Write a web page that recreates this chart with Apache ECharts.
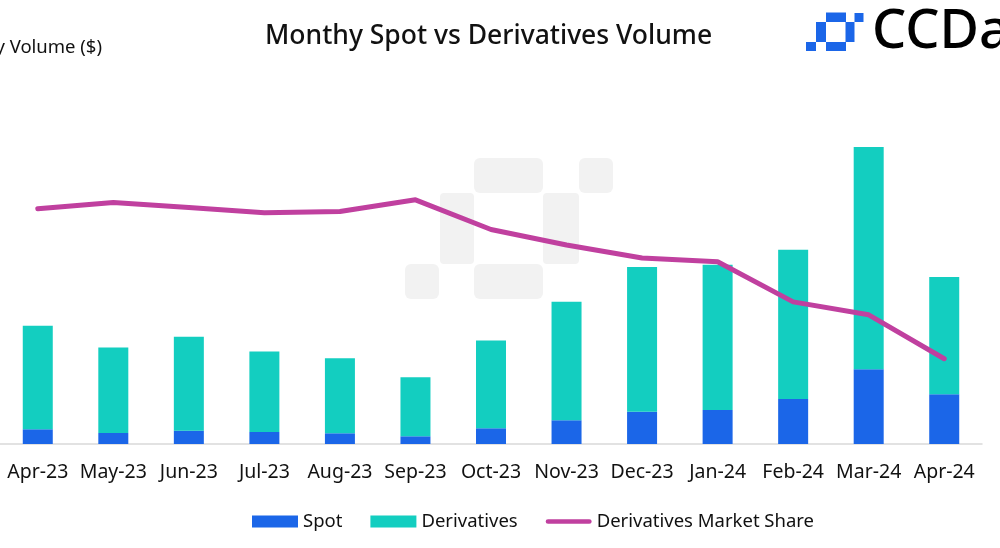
<!DOCTYPE html>
<html>
<head>
<meta charset="utf-8">
<script src="https://cdn.jsdelivr.net/npm/echarts@6/dist/echarts.min.js"></script>
<style>html,body{margin:0;padding:0;background:#fff;}#c{width:1000px;height:548px;}</style>
</head>
<body>
<div id="c"></div>
<script>
const categories = ['Apr-23','May-23','Jun-23','Jul-23','Aug-23','Sep-23','Oct-23','Nov-23','Dec-23','Jan-24','Feb-24','Mar-24','Apr-24'];
// Monthly volume, billions of USD
const spotVolume = [456, 341, 412, 372, 332, 239, 487, 735, 1001, 1054, 1395, 2316, 1541];
const derivativesVolume = [3202, 2644, 2905, 2489, 2325, 1829, 2716, 3667, 4476, 4495, 4619, 6882, 3627];
// Derivatives market share, percent (estimated)
const derivativesShare = [78.2, 78.7, 78.3, 77.9, 78.0, 78.9, 76.6, 75.4, 74.4, 74.1, 71.0, 70.0, 66.6];

const FONT = 'Noto Sans';
const chart = echarts.init(document.getElementById('c'));

function wm(x, y, w, h, fill, r) {
  return { type: 'rect', shape: { x: x, y: y, width: w, height: h, r: r }, style: { fill: fill }, z: -10, silent: true };
}
const wmc = '#f2f2f2';
const logo = '#1b66e8';

chart.setOption({
  backgroundColor: '#fff',
  animation: false,
  title: {
    text: 'Monthy Spot vs Derivatives Volume',
    left: 265, top: 23, padding: 0,
    textStyle: { fontFamily: FONT, fontSize: 26.5, fontWeight: 500, color: '#111' }
  },
  graphic: [
    // background watermark
    wm(474, 158, 69, 35, wmc, 6),
    wm(579, 158, 34, 35, wmc, 6),
    wm(440, 193, 34, 71, wmc, 4),
    wm(543, 193, 36, 71, wmc, 4),
    wm(474, 264, 69, 35, wmc, 6),
    wm(405, 264, 34, 35, wmc, 6),
    // logo icon
    { type: 'rect', shape: { x: 826, y: 12.5, width: 20, height: 9.5 }, style: { fill: logo }, silent: true },
    { type: 'rect', shape: { x: 854.5, y: 13, width: 9, height: 9 }, style: { fill: logo }, silent: true },
    { type: 'rect', shape: { x: 816, y: 22, width: 10, height: 20 }, style: { fill: logo }, silent: true },
    { type: 'rect', shape: { x: 845.5, y: 22, width: 9, height: 20 }, style: { fill: logo }, silent: true },
    { type: 'rect', shape: { x: 826, y: 42, width: 20, height: 9 }, style: { fill: logo }, silent: true },
    { type: 'rect', shape: { x: 806, y: 42, width: 10, height: 9 }, style: { fill: logo }, silent: true },
    { type: 'text', x: 872, y: 33, style: { text: 'CCData', fontFamily: FONT, fontSize: 54, fontWeight: 500, fill: '#000', textAlign: 'left', textVerticalAlign: 'middle' }, silent: true },
    { type: 'text', x: 102, y: 48, style: { text: 'Monthly Volume ($)', fontFamily: FONT, fontSize: 18.5, fill: '#111', textAlign: 'right', textVerticalAlign: 'middle' }, silent: true }
  ],
  legend: {
    left: 252, top: 512, padding: 0,
    itemWidth: 46, itemHeight: 12, itemGap: 28,
    textStyle: { fontFamily: FONT, fontSize: 18.5, color: '#111' },
    data: [
      { name: 'Spot', icon: 'rect' },
      { name: 'Derivatives', icon: 'rect' },
      { name: 'Derivatives Market Share', icon: 'path://M2.5,0 L46.5,0 A2.5,2.5 0 0 1 46.5,5 L2.5,5 A2.5,2.5 0 0 1 2.5,0 Z' }
    ]
  },
  grid: { left: 0, width: 982, top: 121, bottom: 104, containLabel: false },
  xAxis: {
    type: 'category', data: categories,
    axisLine: { show: true, lineStyle: { color: '#d9d9d9', width: 1.5 } },
    axisTick: { show: false },
    axisLabel: { fontFamily: FONT, fontSize: 19.5, color: '#111', margin: 18, interval: 0 }
  },
  yAxis: [
    { type: 'value', min: 0, max: 10000, show: false, splitLine: { show: false } },
    { type: 'value', min: 60, max: 85, show: false, splitLine: { show: false } }
  ],
  series: [
    { name: 'Spot', type: 'bar', stack: 'v', barWidth: 30, data: spotVolume, itemStyle: { color: '#1b66e8' } },
    { name: 'Derivatives', type: 'bar', stack: 'v', barWidth: 30, data: derivativesVolume, itemStyle: { color: '#13cec0' } },
    { name: 'Derivatives Market Share', type: 'line', yAxisIndex: 1, data: derivativesShare,
      symbol: 'none', z: 5,
      lineStyle: { color: '#c0409f', width: 5, cap: 'round', join: 'round' },
      itemStyle: { color: '#c0409f' } }
  ]
});
</script>
</body>
</html>
